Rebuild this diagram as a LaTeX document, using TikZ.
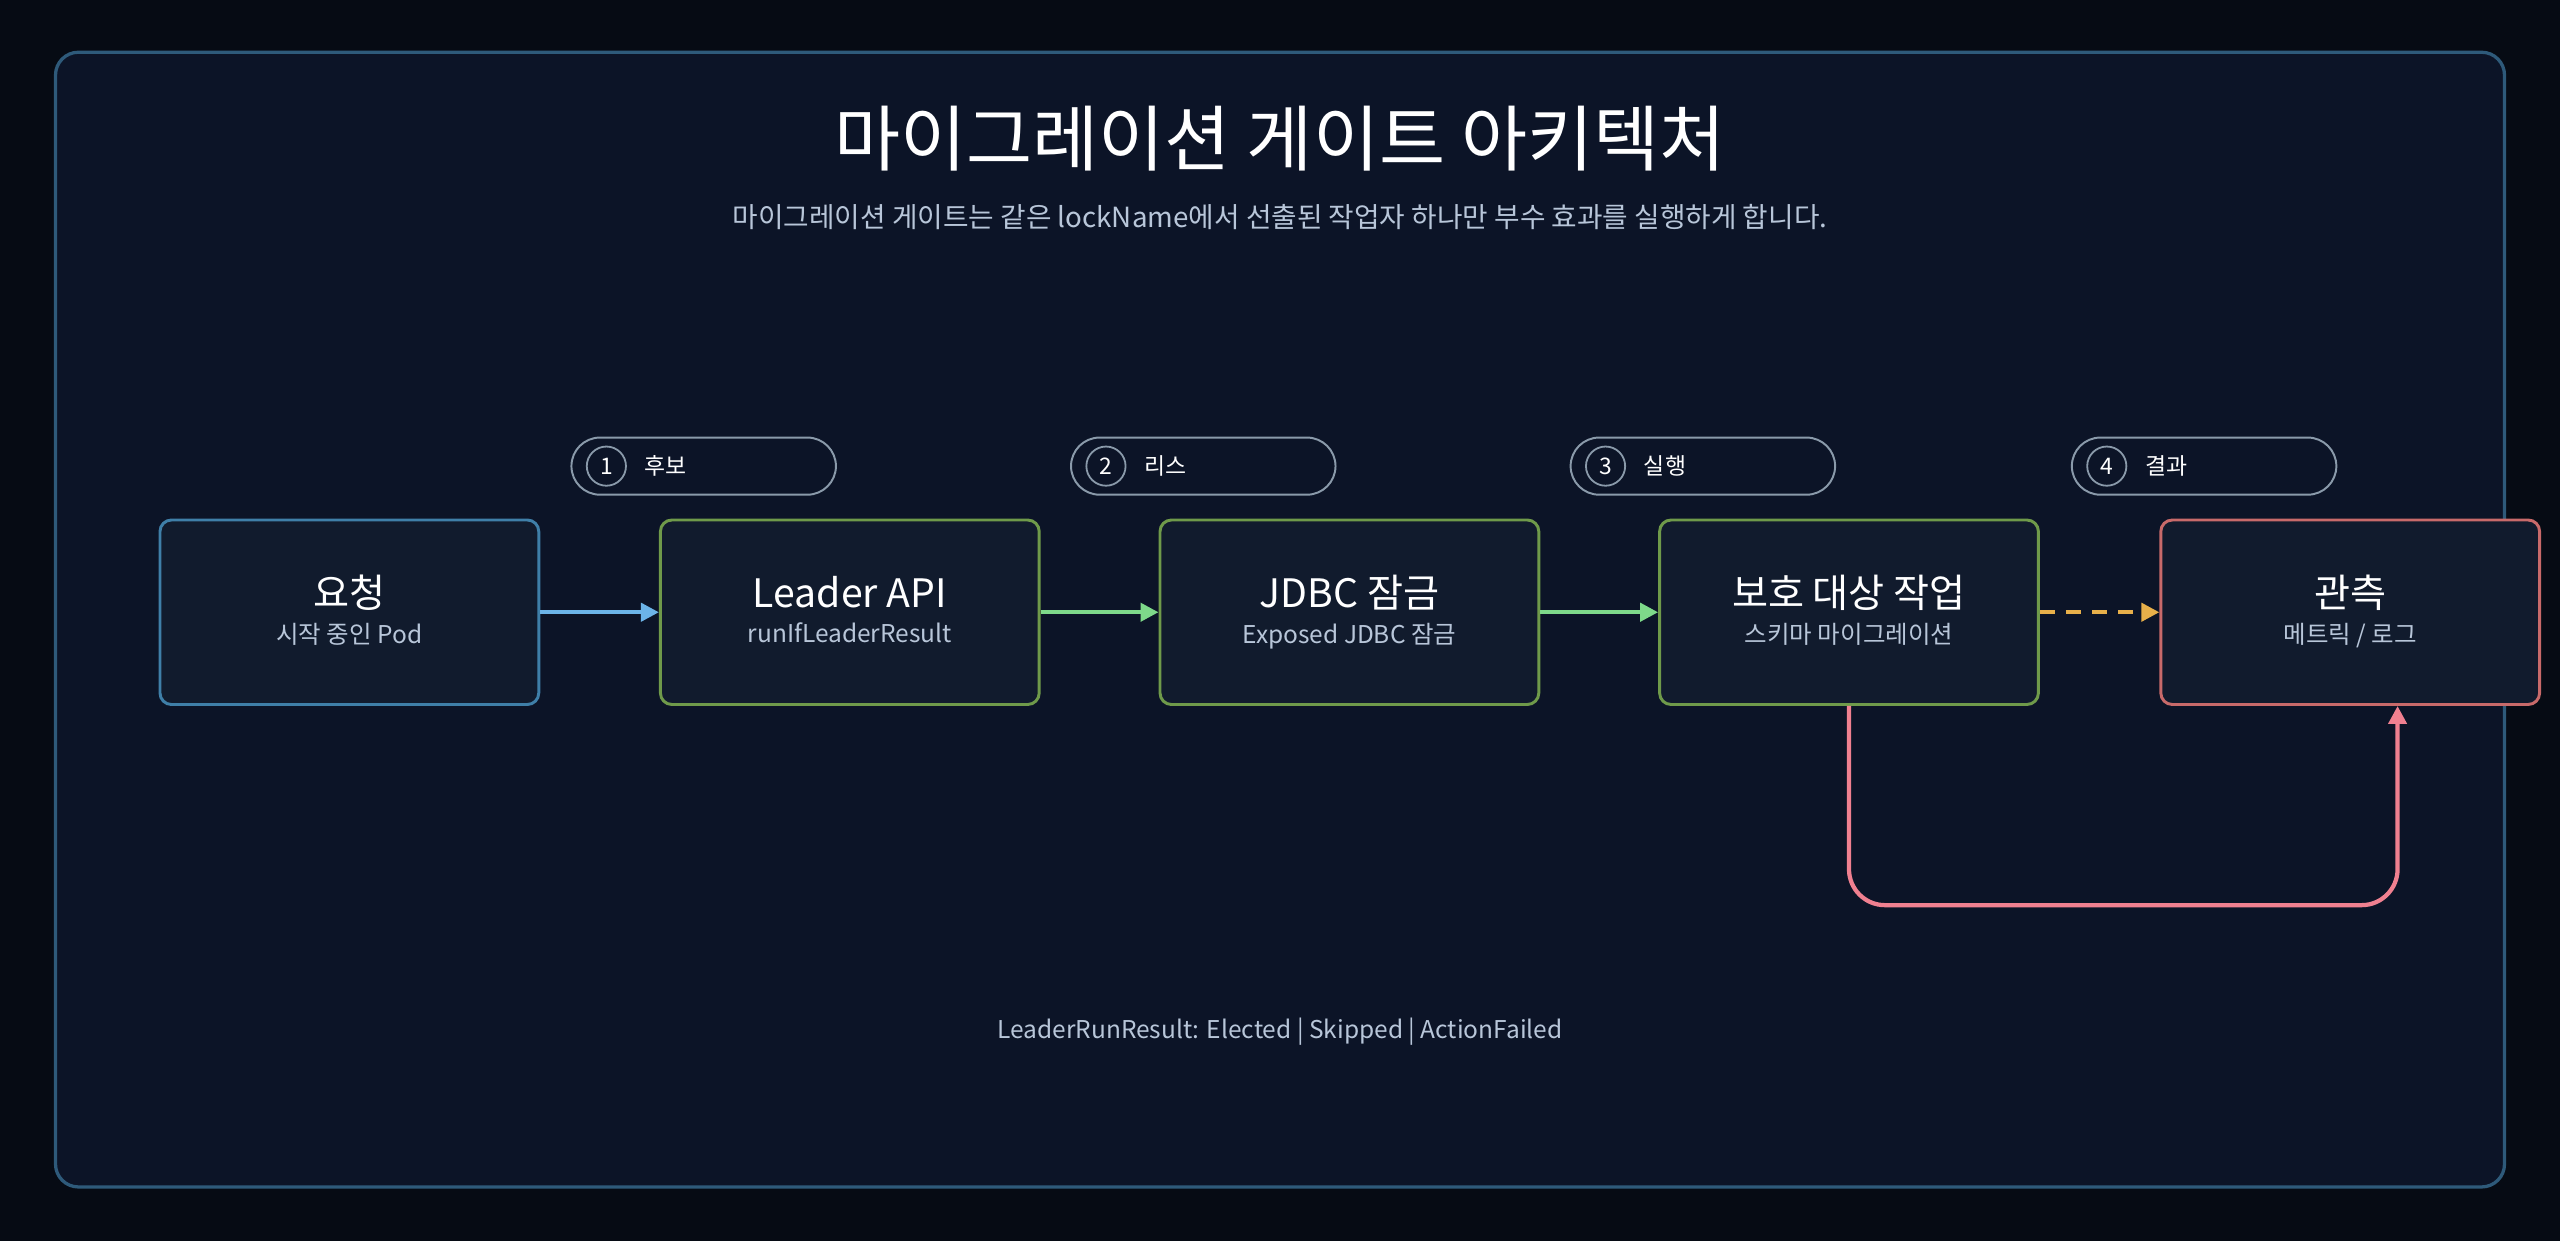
\documentclass[tikz,border=0pt]{standalone}
\usepackage{fontspec}
\setmainfont{Noto Sans CJK KR}
\usetikzlibrary{arrows.meta,positioning}
\definecolor{BgOuter}{HTML}{060B14}
\definecolor{BgPanel}{HTML}{0C1427}
\definecolor{PanelLine}{HTML}{2E5A7A}
\definecolor{BoxFill}{HTML}{111B2D}
\definecolor{BlueLine}{HTML}{3F7FA8}
\definecolor{GreenLine}{HTML}{6F9A4A}
\definecolor{RedLine}{HTML}{C86A6A}
\definecolor{SubText}{HTML}{B8C6D9}
\definecolor{PillLine}{HTML}{8A9AAA}
\definecolor{ArrBlue}{HTML}{6CB4E8}
\definecolor{ArrGreen}{HTML}{7ED98A}
\definecolor{ArrOrange}{HTML}{E8B04A}
\definecolor{ArrRed}{HTML}{F08090}
\tikzset{
  stage/.style={draw, line width=1.8pt, fill=BoxFill, rounded corners=7,
    minimum width=232, minimum height=113, inner sep=0pt},
  pill/.style={draw=PillLine, line width=1.2pt, rounded corners=17.5,
    minimum width=162, minimum height=35, inner sep=0pt},
  flow/.style={line width=2.6pt, -{Triangle[length=11,width=11]}},
}
\newcommand{\stagetext}[2]{\begin{tabular}{c}\fontsize{24}{28}\selectfont\color{white}#1\\[6pt]\fontsize{15}{18}\selectfont\color{SubText}#2\end{tabular}}
\begin{document}
\begin{tikzpicture}[x=1pt,y=1pt,yscale=-1]
  \useasboundingbox (0,0) rectangle (1568,760);
  \fill[BgOuter] (0,0) rectangle (1568,760);
  \draw[PanelLine, fill=BgPanel, line width=2pt, rounded corners=14] (34,32) rectangle (1534,727);

  % title and subtitle
  \node[white, font=\fontsize{44}{50}\selectfont] (title) at (784,85) {마이그레이션 게이트 아키텍처};
  \node[SubText, font=\fontsize{17}{20}\selectfont] (subtitle) at (784,133) {마이그레이션 게이트는 같은 lockName에서 선출된 작업자 하나만 부수 효과를 실행하게 합니다.};

  % stages
  \node[stage, draw=BlueLine] (request) at (214,375) {\stagetext{요청}{시작 중인 Pod}};
  \node[stage, draw=GreenLine] (leader) at (520.5,375) {\stagetext{Leader API}{runIfLeaderResult}};
  \node[stage, draw=GreenLine] (jdbc) at (826.5,375) {\stagetext{JDBC 잠금}{Exposed JDBC 잠금}};
  \node[stage, draw=GreenLine] (work) at (1132.5,375) {\stagetext{보호 대상 작업}{스키마 마이그레이션}};
  \node[stage, draw=RedLine] (observe) at (1439.5,375) {\stagetext{관측}{메트릭 / 로그}};

  % step pills
  \foreach \x/\n/\t in {431/1/후보, 737/2/리스, 1043/3/실행, 1350/4/결과}{
    \node[pill] (pill\n) at (\x,285.5) {};
    \draw[PillLine, line width=1.1pt] ([xshift=22]pill\n.west) circle (12);
    \node[white, font=\fontsize{14}{16}\selectfont] at ([xshift=22]pill\n.west) {\n};
    \node[white, anchor=west, font=\fontsize{14}{16}\selectfont] at ([xshift=42]pill\n.west) {\t};
  }

  % connectors
  \draw[flow, ArrBlue] (request) -- (leader);
  \draw[flow, ArrGreen] (leader) -- (jdbc);
  \draw[flow, ArrGreen] (jdbc) -- (work);
  \draw[flow, ArrOrange, dash pattern=on 9pt off 7pt] (work) -- (observe);
  \draw[flow, ArrRed, rounded corners=22] (work.south) -- ++(0,122) -| ([xshift=29]observe.south);

  % footer
  \node[SubText, font=\fontsize{15}{18}\selectfont] (footer) at (784,632) {LeaderRunResult: Elected | Skipped | ActionFailed};
\end{tikzpicture}
\end{document}
